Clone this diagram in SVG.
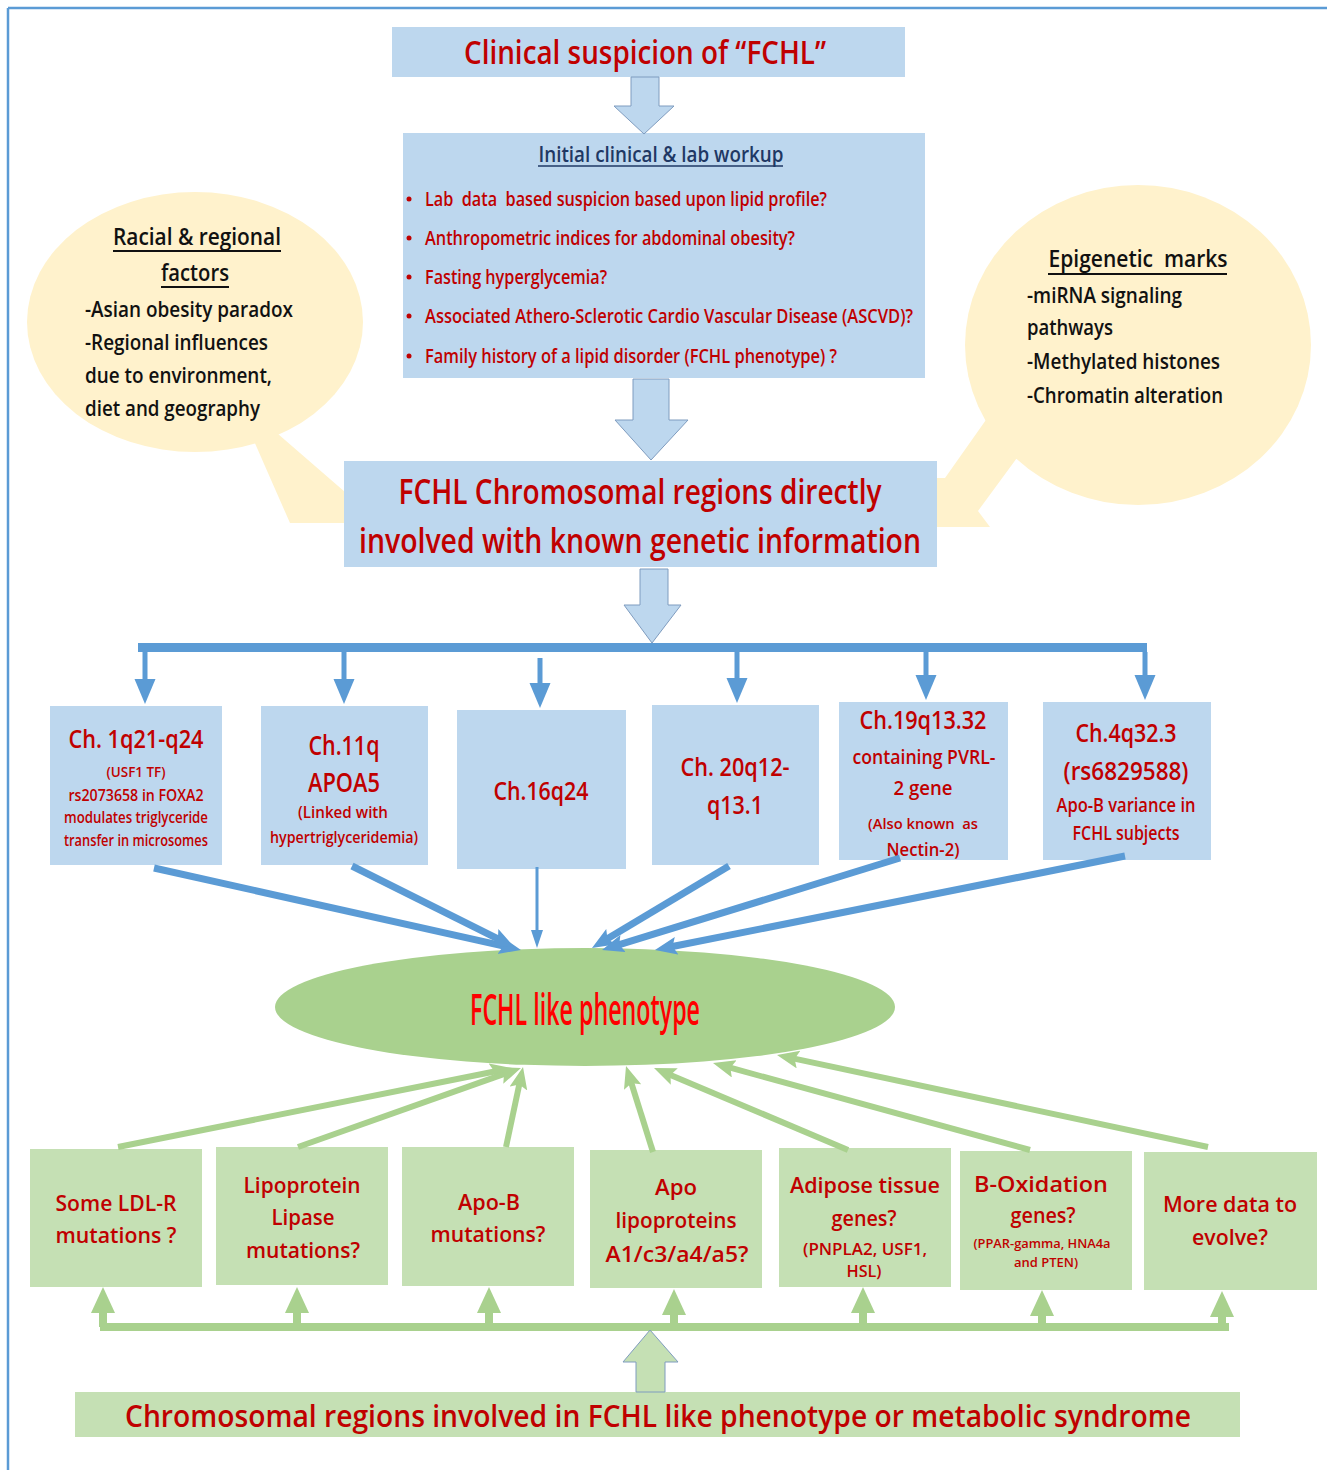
<svg xmlns="http://www.w3.org/2000/svg" width="1327" height="1470" viewBox="0 0 1327 1470">
<style>
text{font-family:"Open Sans","Liberation Sans",sans-serif;font-weight:600}
.r{fill:#C00000}
.c{text-anchor:middle}
.k{fill:#111111}
.box{fill:#BDD7EE}
.gbox{fill:#C5E0B4}
.blk{fill:#BDD7EE;stroke:#7F9CBF;stroke-width:1}
.gblk{fill:#C5E0B4;stroke:#7F9CBF;stroke-width:1}
.bl{stroke:#5B9BD5;stroke-width:7;fill:none;marker-end:url(#bh)}
.gl{stroke:#A9D18E;stroke-width:6;fill:none;marker-end:url(#gh)}
.dr{stroke:#5B9BD5;stroke-width:5;fill:none;marker-end:url(#dh)}
.up{stroke:#A9D18E;stroke-width:8;fill:none;marker-end:url(#uh)}
.ul{stroke:#111111;stroke-width:2}
</style>
<defs>
<marker id="bh" markerUnits="userSpaceOnUse" markerWidth="24" markerHeight="20" refX="8" refY="9" orient="auto"><path d="M0,0 L22,9 L0,18 L4,9 z" fill="#5B9BD5"/></marker>
<marker id="bs" markerUnits="userSpaceOnUse" markerWidth="24" markerHeight="20" refX="6" refY="6" orient="auto"><path d="M0,0 L18,6 L0,12 z" fill="#5B9BD5"/></marker>
<marker id="gh" markerUnits="userSpaceOnUse" markerWidth="24" markerHeight="20" refX="8" refY="9" orient="auto"><path d="M0,0 L22,9 L0,18 L4,9 z" fill="#A9D18E"/></marker>
<marker id="dh" markerUnits="userSpaceOnUse" markerWidth="28" markerHeight="24" refX="8" refY="10.5" orient="auto"><path d="M0,0 L25,10.5 L0,21 z" fill="#5B9BD5"/></marker>
<marker id="uh" markerUnits="userSpaceOnUse" markerWidth="28" markerHeight="26" refX="8" refY="12" orient="auto"><path d="M0,0 L26,12 L0,24 z" fill="#A9D18E"/></marker>
</defs>

<g id="frame">
<line x1="8" y1="8" x2="1327" y2="8" stroke="#5B9BD5" stroke-width="2.5"/>
<line x1="8" y1="8" x2="8" y2="1470" stroke="#5B9BD5" stroke-width="2.5"/>
</g>

<g id="racial-bubble">
<polygon points="250,432 268,473 290,523 352,523 352,497 345,492 300,453 270,427" fill="#FFF2CC"/>
<ellipse cx="195" cy="322" rx="168" ry="130" fill="#FFF2CC"/>
<text class="k c" x="197" y="245" font-size="23" textLength="168" lengthAdjust="spacingAndGlyphs">Racial &amp; regional</text>
<line class="ul" x1="113" y1="251" x2="281" y2="251"/>
<text class="k c" x="195" y="281" font-size="23" textLength="68" lengthAdjust="spacingAndGlyphs">factors</text>
<line class="ul" x1="161" y1="287" x2="229" y2="287"/>
<text class="k" x="85" y="317" font-size="21" textLength="208" lengthAdjust="spacingAndGlyphs">-Asian obesity paradox</text>
<text class="k" x="85" y="350" font-size="21" textLength="183" lengthAdjust="spacingAndGlyphs">-Regional influences</text>
<text class="k" x="85" y="383" font-size="21" textLength="187" lengthAdjust="spacingAndGlyphs">due to environment,</text>
<text class="k" x="85" y="416" font-size="21" textLength="175" lengthAdjust="spacingAndGlyphs">diet and geography</text>
</g>

<g id="epigenetic-bubble">
<polygon points="1000,400 945,478 930,478 930,527 990,527 978,511 1030,440" fill="#FFF2CC"/>
<ellipse cx="1138" cy="345" rx="173" ry="160" fill="#FFF2CC"/>
<text class="k c" x="1138" y="267" font-size="23" textLength="179" lengthAdjust="spacingAndGlyphs" xml:space="preserve">Epigenetic  marks</text>
<line class="ul" x1="1048" y1="274" x2="1227" y2="274"/>
<text class="k" x="1027" y="303" font-size="21" textLength="155" lengthAdjust="spacingAndGlyphs">-miRNA signaling</text>
<text class="k" x="1027" y="335" font-size="21" textLength="86" lengthAdjust="spacingAndGlyphs">pathways</text>
<text class="k" x="1027" y="369" font-size="21" textLength="193" lengthAdjust="spacingAndGlyphs">-Methylated histones</text>
<text class="k" x="1027" y="403" font-size="21" textLength="196" lengthAdjust="spacingAndGlyphs">-Chromatin alteration</text>
</g>

<g id="clinical-suspicion">
<rect class="box" x="392" y="27" width="513" height="50"/>
<text class="r c" x="645" y="64" font-size="32" textLength="362" lengthAdjust="spacingAndGlyphs">Clinical suspicion of “FCHL”</text>
</g>

<g id="workup">
<rect class="box" x="403" y="133" width="522" height="245"/>
<text class="c" x="661" y="162" font-size="21" fill="#1F3864" textLength="245" lengthAdjust="spacingAndGlyphs">Initial clinical &amp; lab workup</text>
<line x1="538" y1="166" x2="783" y2="166" stroke="#1F3864" stroke-width="1.5"/>
<g class="r" font-size="19">
<circle cx="409" cy="199" r="2.5" fill="#C00000"/>
<text x="425" y="206" textLength="402" lengthAdjust="spacingAndGlyphs" xml:space="preserve">Lab  data  based suspicion based upon lipid profile?</text>
<circle cx="409" cy="238" r="2.5" fill="#C00000"/>
<text x="425" y="245" textLength="370" lengthAdjust="spacingAndGlyphs">Anthropometric indices for abdominal obesity?</text>
<circle cx="409" cy="277" r="2.5" fill="#C00000"/>
<text x="425" y="284" textLength="182" lengthAdjust="spacingAndGlyphs">Fasting hyperglycemia?</text>
<circle cx="409" cy="316" r="2.5" fill="#C00000"/>
<text x="425" y="323" textLength="488" lengthAdjust="spacingAndGlyphs">Associated Athero-Sclerotic Cardio Vascular Disease (ASCVD)?</text>
<circle cx="409" cy="356" r="2.5" fill="#C00000"/>
<text x="425" y="363" textLength="412" lengthAdjust="spacingAndGlyphs">Family history of a lipid disorder (FCHL phenotype) ?</text>
</g>
</g>

<g id="fchl-regions">
<rect class="box" x="344" y="461" width="593" height="106"/>
<text class="r c" x="640" y="504" font-size="35" textLength="483" lengthAdjust="spacingAndGlyphs">FCHL Chromosomal regions directly</text>
<text class="r c" x="640" y="553" font-size="35" textLength="562" lengthAdjust="spacingAndGlyphs">involved with known genetic information</text>
</g>

<g id="ch1">
<rect class="box" x="50" y="706" width="172" height="159"/>
<text class="r c" x="136" y="748" font-size="26" textLength="135" lengthAdjust="spacingAndGlyphs">Ch. 1q21-q24</text>
<text class="r c" x="136" y="777" font-size="14" textLength="59" lengthAdjust="spacingAndGlyphs">(USF1 TF)</text>
<text class="r c" x="136" y="801" font-size="16" textLength="135" lengthAdjust="spacingAndGlyphs">rs2073658 in FOXA2</text>
<text class="r c" x="136" y="823" font-size="16" textLength="144" lengthAdjust="spacingAndGlyphs">modulates triglyceride</text>
<text class="r c" x="136" y="846" font-size="16" textLength="144" lengthAdjust="spacingAndGlyphs">transfer in microsomes</text>
</g>
<g id="ch11">
<rect class="box" x="261" y="706" width="167" height="159"/>
<text class="r c" x="344" y="755" font-size="27" textLength="71" lengthAdjust="spacingAndGlyphs">Ch.11q</text>
<text class="r c" x="344" y="792" font-size="27" textLength="72" lengthAdjust="spacingAndGlyphs">APOA5</text>
<text class="r c" x="343" y="818" font-size="16" textLength="90" lengthAdjust="spacingAndGlyphs">(Linked with</text>
<text class="r c" x="344" y="843" font-size="16" textLength="148" lengthAdjust="spacingAndGlyphs">hypertriglyceridemia)</text>
</g>
<g id="ch16">
<rect class="box" x="457" y="710" width="169" height="159"/>
<text class="r c" x="541" y="800" font-size="26" textLength="95" lengthAdjust="spacingAndGlyphs">Ch.16q24</text>
</g>
<g id="ch20">
<rect class="box" x="652" y="705" width="167" height="160"/>
<text class="r c" x="735" y="776" font-size="26" textLength="109" lengthAdjust="spacingAndGlyphs">Ch. 20q12-</text>
<text class="r c" x="735" y="814" font-size="26" textLength="56" lengthAdjust="spacingAndGlyphs">q13.1</text>
</g>
<g id="ch19">
<rect class="box" x="839" y="702" width="169" height="158"/>
<text class="r c" x="923" y="729" font-size="25" textLength="127" lengthAdjust="spacingAndGlyphs">Ch.19q13.32</text>
<text class="r c" x="924" y="764" font-size="19" textLength="143" lengthAdjust="spacingAndGlyphs">containing PVRL-</text>
<text class="r c" x="923" y="795" font-size="19" textLength="59" lengthAdjust="spacingAndGlyphs">2 gene</text>
<text class="r c" x="923" y="829" font-size="15" textLength="110" lengthAdjust="spacingAndGlyphs" xml:space="preserve">(Also known  as</text>
<text class="r c" x="923" y="856" font-size="18" textLength="73" lengthAdjust="spacingAndGlyphs">Nectin-2)</text>
</g>
<g id="ch4">
<rect class="box" x="1043" y="702" width="168" height="158"/>
<text class="r c" x="1126" y="742" font-size="26" textLength="101" lengthAdjust="spacingAndGlyphs">Ch.4q32.3</text>
<text class="r c" x="1126" y="780" font-size="26" textLength="125" lengthAdjust="spacingAndGlyphs">(rs6829588)</text>
<text class="r c" x="1126" y="812" font-size="19" textLength="139" lengthAdjust="spacingAndGlyphs">Apo-B variance in</text>
<text class="r c" x="1126" y="840" font-size="19" textLength="107" lengthAdjust="spacingAndGlyphs">FCHL subjects</text>
</g>

<g id="phenotype">
<ellipse cx="585" cy="1007" rx="310" ry="59" fill="#A9D18E"/>
<text x="585" y="1025" font-size="44" fill="#FF0000" font-weight="700" text-anchor="middle" textLength="230" lengthAdjust="spacingAndGlyphs">FCHL like phenotype</text>
</g>

<g id="ldlr">
<rect class="gbox" x="30" y="1149" width="172" height="138"/>
<text class="r c" x="116" y="1211" font-size="22" textLength="121" lengthAdjust="spacingAndGlyphs">Some LDL-R</text>
<text class="r c" x="116" y="1243" font-size="22" textLength="121" lengthAdjust="spacingAndGlyphs">mutations ?</text>
</g>
<g id="lpl">
<rect class="gbox" x="216" y="1147" width="172" height="138"/>
<text class="r c" x="302" y="1193" font-size="22" textLength="117" lengthAdjust="spacingAndGlyphs">Lipoprotein</text>
<text class="r c" x="303" y="1225" font-size="22" textLength="63" lengthAdjust="spacingAndGlyphs">Lipase</text>
<text class="r c" x="303" y="1258" font-size="22" textLength="114" lengthAdjust="spacingAndGlyphs">mutations?</text>
</g>
<g id="apob">
<rect class="gbox" x="402" y="1147" width="172" height="139"/>
<text class="r c" x="489" y="1210" font-size="22" textLength="62" lengthAdjust="spacingAndGlyphs">Apo-B</text>
<text class="r c" x="488" y="1242" font-size="22" textLength="115" lengthAdjust="spacingAndGlyphs">mutations?</text>
</g>
<g id="apolipo">
<rect class="gbox" x="590" y="1150" width="172" height="138"/>
<text class="r c" x="676" y="1195" font-size="22" textLength="42" lengthAdjust="spacingAndGlyphs">Apo</text>
<text class="r c" x="676" y="1228" font-size="22" textLength="121" lengthAdjust="spacingAndGlyphs">lipoproteins</text>
<text class="r c" x="677" y="1262" font-size="22" textLength="143" lengthAdjust="spacingAndGlyphs">A1/c3/a4/a5?</text>
</g>
<g id="adipose">
<rect class="gbox" x="779" y="1148" width="172" height="139"/>
<text class="r c" x="865" y="1193" font-size="22" textLength="150" lengthAdjust="spacingAndGlyphs">Adipose tissue</text>
<text class="r c" x="864" y="1226" font-size="22" textLength="65" lengthAdjust="spacingAndGlyphs">genes?</text>
<text class="r c" x="865" y="1255" font-size="16" textLength="124" lengthAdjust="spacingAndGlyphs">(PNPLA2, USF1,</text>
<text class="r c" x="864" y="1277" font-size="16" textLength="35" lengthAdjust="spacingAndGlyphs">HSL)</text>
</g>
<g id="boxidation">
<rect class="gbox" x="960" y="1151" width="172" height="139"/>
<text class="r c" x="1041" y="1192" font-size="22" textLength="134" lengthAdjust="spacingAndGlyphs">B-Oxidation</text>
<text class="r c" x="1043" y="1223" font-size="22" textLength="65" lengthAdjust="spacingAndGlyphs">genes?</text>
<text class="r c" x="1042" y="1248" font-size="12" textLength="137" lengthAdjust="spacingAndGlyphs">(PPAR-gamma, HNA4a</text>
<text class="r c" x="1046" y="1267" font-size="12" textLength="64" lengthAdjust="spacingAndGlyphs">and PTEN)</text>
</g>
<g id="moredata">
<rect class="gbox" x="1144" y="1152" width="173" height="138"/>
<text class="r c" x="1230" y="1212" font-size="22" textLength="134" lengthAdjust="spacingAndGlyphs">More data to</text>
<text class="r c" x="1230" y="1245" font-size="22" textLength="76" lengthAdjust="spacingAndGlyphs">evolve?</text>
</g>

<g id="chromosomal-regions">
<rect class="gbox" x="75" y="1392" width="1165" height="45"/>
<text class="r c" x="658" y="1427" font-size="30" textLength="1066" lengthAdjust="spacingAndGlyphs">Chromosomal regions involved in FCHL like phenotype or metabolic syndrome</text>
</g>

<g id="connectors">
<polygon class="blk" points="631,77 659,77 659,106 674,106 644,134 614,106 631,106"/>
<polygon class="blk" points="633,379 669,379 669,420 688,420 651,460 615,420 633,420"/>
<polygon class="blk" points="640,569 668,569 668,605 681,605 652,643 624,605 640,605"/>
<line x1="138" y1="647.5" x2="1147" y2="647.5" stroke="#5B9BD5" stroke-width="9"/>
<line class="dr" x1="145" y1="652" x2="145" y2="687"/>
<line class="dr" x1="344" y1="652" x2="344" y2="687"/>
<line class="dr" x1="540" y1="658" x2="540" y2="691"/>
<line class="dr" x1="737" y1="652" x2="737" y2="686"/>
<line class="dr" x1="926" y1="652" x2="926" y2="683"/>
<line class="dr" x1="1145" y1="652" x2="1145" y2="683"/>
<line class="bl" x1="154" y1="868" x2="507.3" y2="946.9"/>
<line class="bl" x1="352" y1="866" x2="501.5" y2="940.7"/>
<line x1="537" y1="867" x2="537" y2="936" stroke="#5B9BD5" stroke-width="3" marker-end="url(#bs)"/>
<line class="bl" x1="729" y1="866" x2="604" y2="940.8"/>
<line class="bl" x1="900" y1="858" x2="615.4" y2="945.9"/>
<line class="bl" x1="1125" y1="856" x2="668.7" y2="947.3"/>
<line class="gl" x1="118" y1="1147" x2="498.3" y2="1070.8"/>
<line class="gl" x1="298" y1="1147" x2="507.8" y2="1072.7"/>
<line class="gl" x1="506" y1="1147" x2="520.1" y2="1080.7"/>
<line class="gl" x1="653" y1="1152" x2="630.2" y2="1079.4"/>
<line class="gl" x1="848" y1="1150" x2="666.9" y2="1073.4"/>
<line class="gl" x1="1030" y1="1150" x2="726.5" y2="1066.7"/>
<line class="gl" x1="1208" y1="1147" x2="790.7" y2="1057.9"/>
<line x1="100" y1="1327" x2="1229" y2="1327" stroke="#A9D18E" stroke-width="8"/>
<line class="up" x1="103" y1="1327" x2="103" y2="1305"/>
<line class="up" x1="297" y1="1327" x2="297" y2="1305"/>
<line class="up" x1="489" y1="1327" x2="489" y2="1305"/>
<line class="up" x1="674" y1="1327" x2="674" y2="1307"/>
<line class="up" x1="863" y1="1327" x2="863" y2="1305"/>
<line class="up" x1="1042" y1="1327" x2="1042" y2="1308"/>
<line class="up" x1="1222" y1="1327" x2="1222" y2="1309"/>
<polygon class="gblk" points="636,1392 665,1392 665,1362 678,1362 650,1330 623,1362 636,1362"/>
</g>
</svg>
